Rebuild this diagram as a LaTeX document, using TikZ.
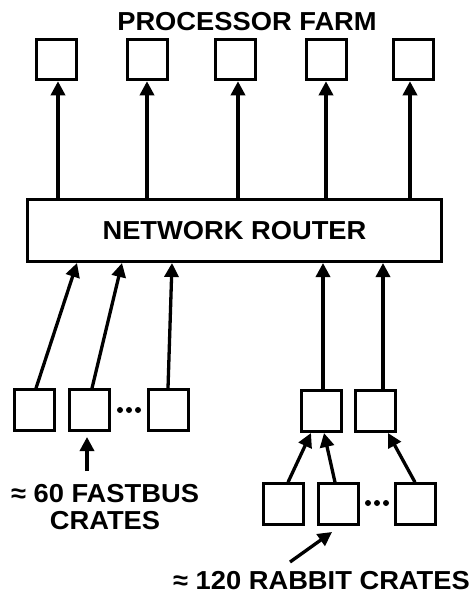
\documentclass[tikz,border=0pt]{standalone}
\usepackage{fontspec}
\setmainfont{Liberation Sans}[FakeStretch=1.05]
\usetikzlibrary{arrows.meta}
\begin{document}
\begin{tikzpicture}[x=1pt,y=-1pt,
  crate/.style={draw,line width=3pt,minimum width=40pt,minimum height=40.5pt,inner sep=0pt},
  arr/.style={line width=3.3pt,-{Triangle[length=14pt,width=14pt]}},
  lbl/.style={font=\fontsize{26}{27}\selectfont\bfseries,inner sep=0pt,align=center},
  dotm/.style={fill,circle,inner sep=0pt,minimum size=6pt}]
\useasboundingbox (0,0) rectangle (474,603);
% title
\node[lbl] (title) at (247,21.5) {PROCESSOR FARM};
% processor farm boxes
\node[crate] (p1) at (56,59.5) {};
\node[crate] (p2) at (147,59.5) {};
\node[crate] (p3) at (235.5,59.5) {};
\node[crate] (p4) at (326,59.5) {};
\node[crate] (p5) at (413,59.5) {};
% router
\node[draw,line width=3pt,minimum width=414pt,minimum height=62pt,inner sep=0pt,lbl] (router) at (234.5,230.5) {NETWORK ROUTER};
% arrows router -> farm
\foreach \i/\x in {1/58,2/147,3/238,4/326,5/410}{
  \draw[arr] (router.north -| \x,0) -- (p\i.south -| \x,0);
}
% fastbus crates
\node[crate] (f1) at (34.5,410) {};
\node[crate] (f2) at (89.5,410) {};
\node[crate] (f3) at (168.5,410) {};
\node[dotm] (fd1) at (120,410) {};
\node[dotm] (fd2) at (129,410) {};
\node[dotm] (fd3) at (138,410) {};
% rabbit concentrator crates
\node[crate] (r1) at (321.5,411) {};
\node[crate] (r2) at (375.5,411) {};
% rabbit crates
\node[crate] (b1) at (283.5,504) {};
\node[crate] (b2) at (338,504) {};
\node[crate] (b3) at (415,504) {};
\node[dotm] (bd1) at (368,503) {};
\node[dotm] (bd2) at (377,503) {};
\node[dotm] (bd3) at (386,503) {};
% router inputs
\coordinate (i1) at (77,263);
\coordinate (i2) at (122,263);
\coordinate (i3) at (172,263);
\coordinate (i4) at (323,263);
\coordinate (i5) at (383,263);
\draw[arr] (f1.north -| 36,0) -- (i1);
\draw[arr] (f2.north -| 92,0) -- (i2);
\draw[arr] (f3.north -| 168,0) -- (i3);
\draw[arr] (r1.north -| 323,0) -- (i4);
\draw[arr] (r2.north -| 383,0) -- (i5);
% rabbit to concentrators
\coordinate (c1) at (311,433);
\coordinate (c2) at (324,433);
\coordinate (c3) at (388,433);
\draw[arr] (b1.north -| 288,0) -- (c1);
\draw[arr] (b2.north -| 335,0) -- (c2);
\draw[arr] (b3.north -| 415,0) -- (c3);
% labels
\node[lbl] (flab) at (105,507.5) {≈ 60 FASTBUS\\CRATES};
\coordinate (fa) at (87,471);
\coordinate (fb) at (87,437);
\draw[arr] (fa) -- (fb);
\node[lbl] (rlab) at (321.5,581) {≈ 120 RABBIT CRATES};
\coordinate (ra) at (290,562);
\coordinate (rb) at (332,532);
\draw[arr] (ra) -- (rb);
\end{tikzpicture}
\end{document}
